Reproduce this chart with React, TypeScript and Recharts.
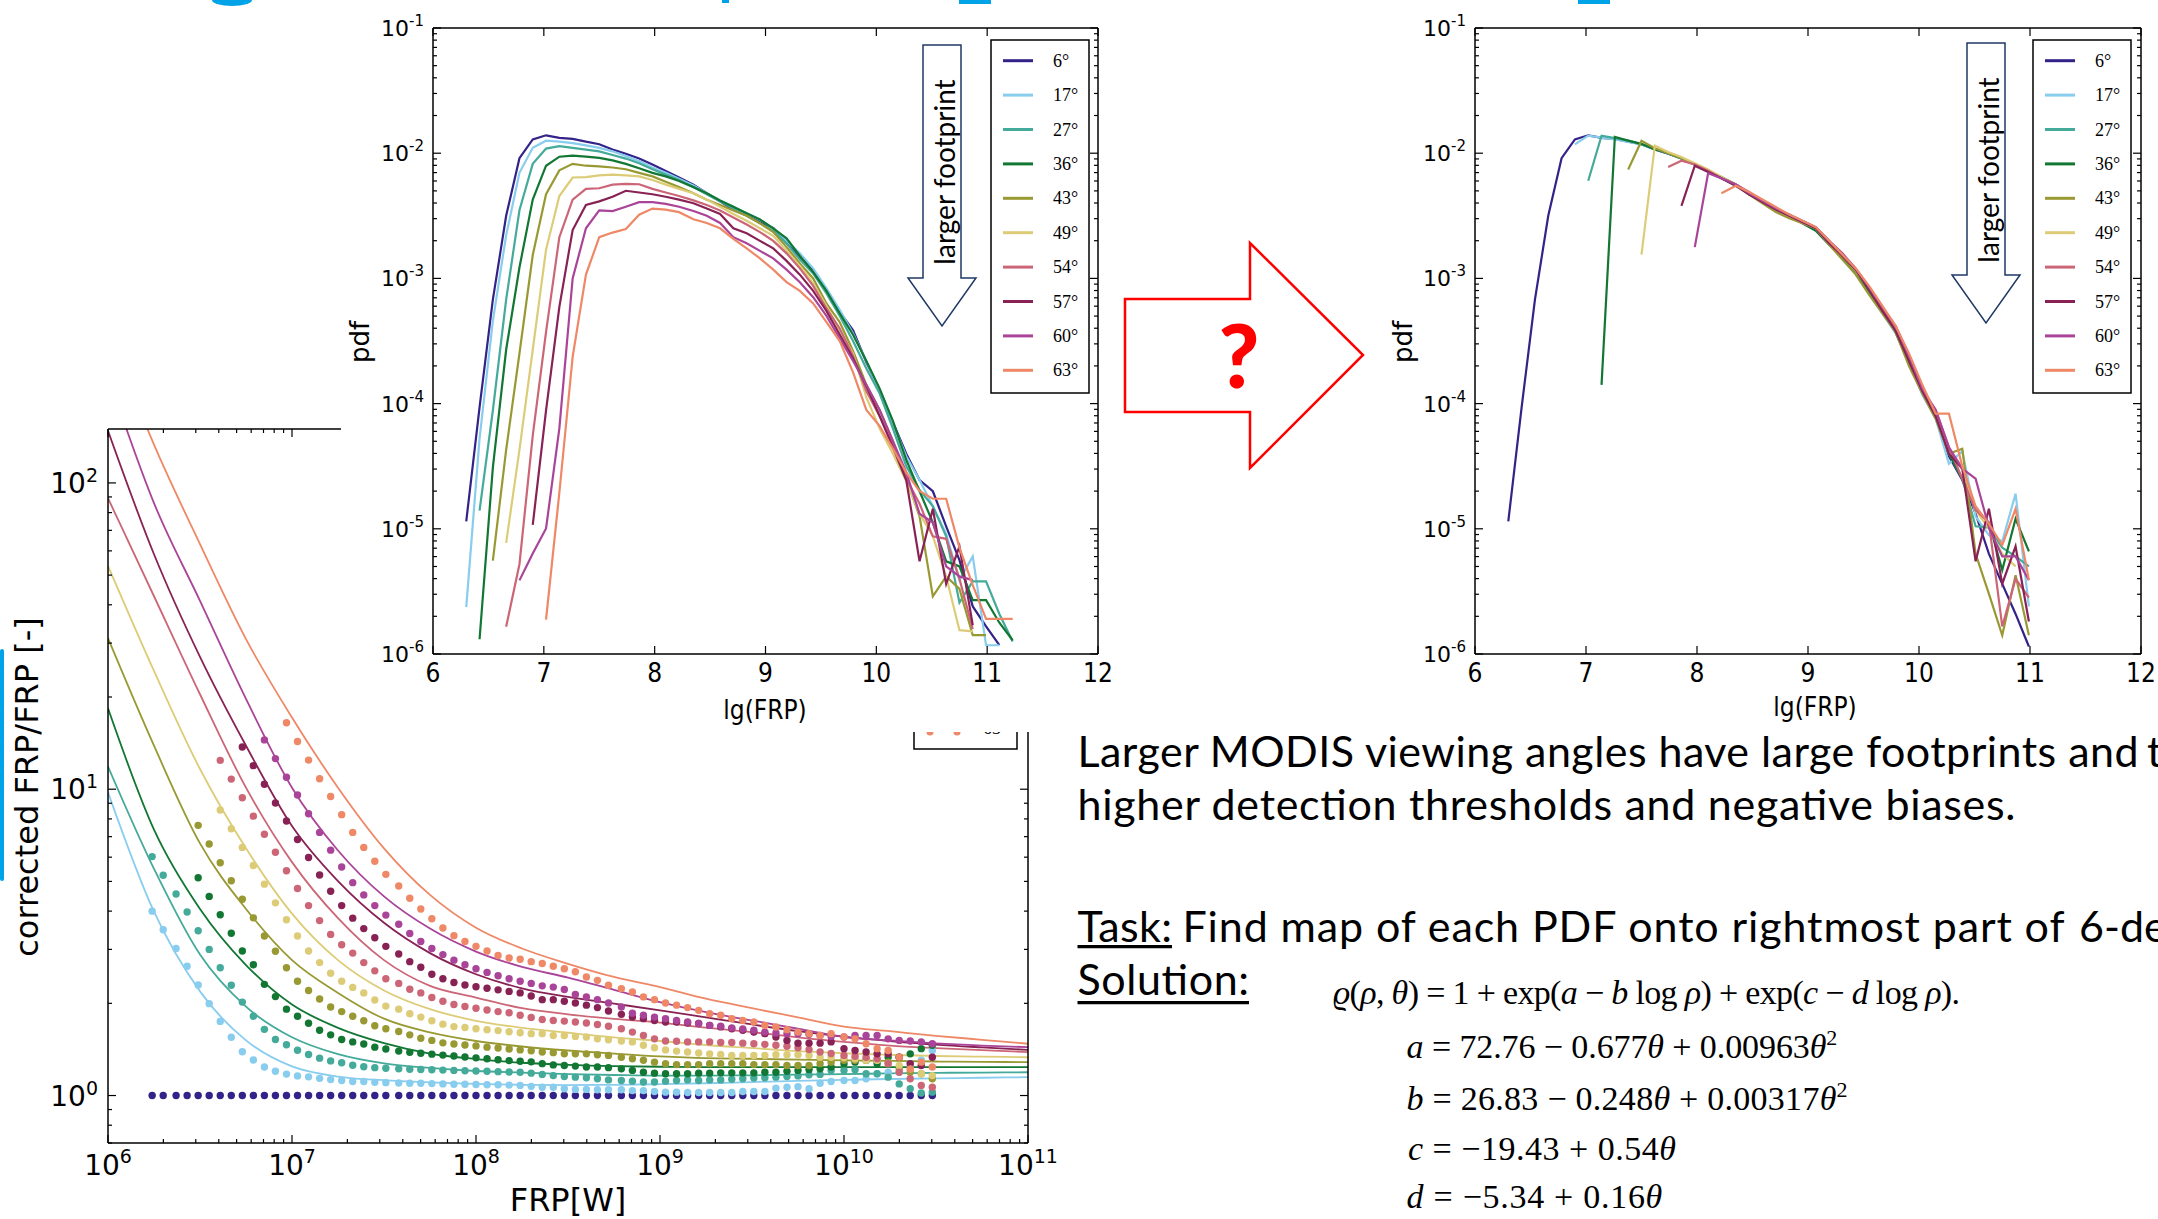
import React from "react";
import { LineChart, ComposedChart, Line, Scatter, XAxis, YAxis } from "recharts";

const angles = ["6°", "17°", "27°", "36°", "43°", "49°", "54°", "57°", "60°", "63°"];
const colors = ["#332288", "#88ccee", "#44aa99", "#117733", "#999933", "#ddcc77", "#cc6677", "#882255", "#aa4499", "#ee8866"];

// lg(FRP) bin centres used by both pdf panels
const binX = [6.30, 6.42, 6.54, 6.66, 6.78, 6.90, 7.02, 7.14, 7.26, 7.38, 7.50, 7.62, 7.74, 7.86, 7.98, 8.10, 8.22, 8.35, 8.47, 8.59, 8.71, 8.83, 8.95, 9.07, 9.19, 9.31, 9.43, 9.55, 9.67, 9.79, 9.91, 10.03, 10.15, 10.27, 10.39, 10.51, 10.63, 10.75, 10.87, 10.99, 11.11, 11.23];

// left panel: lg(pdf) per bin, first bin index in leftStart
const leftStart = [0, 0, 1, 1, 2, 3, 3, 5, 4, 6];
const pdfL06 = [-4.94, -4.03, -3.17, -2.5, -2.04, -1.89, -1.857, -1.877, -1.885, -1.908, -1.928, -1.971, -2.005, -2.042, -2.091, -2.142, -2.194, -2.251, -2.32, -2.385, -2.451, -2.497, -2.552, -2.596, -2.717, -2.827, -2.937, -3.1, -3.267, -3.414, -3.67, -3.89, -4.15, -4.4, -4.61, -4.7, -4.98, -5.25, -5.62, -5.78, -5.93];
const pdfL17 = [-5.625, -4.28, -3.34, -2.656, -2.157, -1.957, -1.9, -1.908, -1.92, -1.937, -1.957, -1.985, -2.022, -2.062, -2.114, -2.157, -2.205, -2.257, -2.32, -2.377, -2.428, -2.48, -2.53, -2.6, -2.7, -2.8, -2.92, -3.08, -3.25, -3.44, -3.66, -3.9, -4.16, -4.42, -4.61, -4.82, -5.04, -5.41, -5.22, -5.93, -5.93];
const pdfL27 = [-4.855, -4.055, -3.17, -2.456, -2.085, -1.963, -1.943, -1.957, -1.971, -1.985, -2.014, -2.043, -2.08, -2.128, -2.171, -2.214, -2.271, -2.328, -2.385, -2.442, -2.5, -2.56, -2.62, -2.72, -2.85, -2.96, -3.12, -3.3, -3.5, -3.72, -3.92, -4.2, -4.5, -4.69, -4.82, -5.06, -5.59, -5.42, -5.42, -5.68, -5.9];
const pdfL36 = [-5.882, -4.512, -3.57, -2.913, -2.371, -2.1, -2.028, -2.02, -2.028, -2.037, -2.057, -2.085, -2.12, -2.157, -2.185, -2.222, -2.271, -2.32, -2.377, -2.428, -2.48, -2.53, -2.6, -2.68, -2.82, -2.95, -3.1, -3.28, -3.45, -3.66, -3.88, -4.14, -4.45, -4.7, -4.95, -5.26, -5.3, -5.57, -5.57, -5.75, -5.89];
const pdfL43 = [-5.254, -4.37, -3.6, -2.813, -2.328, -2.137, -2.085, -2.1, -2.105, -2.114, -2.128, -2.157, -2.185, -2.228, -2.271, -2.32, -2.371, -2.414, -2.457, -2.5, -2.56, -2.63, -2.75, -2.88, -3.0, -3.2, -3.35, -3.58, -3.85, -4.05, -4.3, -4.6, -4.9, -5.54, -5.38, -5.48, -5.85, -5.85];
const pdfL49 = [-5.112, -4.37, -3.57, -2.77, -2.342, -2.194, -2.191, -2.177, -2.171, -2.177, -2.185, -2.214, -2.251, -2.285, -2.32, -2.371, -2.428, -2.485, -2.54, -2.6, -2.66, -2.78, -2.9, -3.04, -3.22, -3.42, -3.6, -3.95, -4.2, -4.4, -4.62, -4.88, -5.06, -5.38, -5.81, -5.82];
const pdfL54 = [-5.783, -5.283, -4.255, -3.427, -2.671, -2.371, -2.285, -2.28, -2.251, -2.245, -2.248, -2.285, -2.314, -2.342, -2.377, -2.414, -2.457, -2.514, -2.57, -2.63, -2.7, -2.8, -2.92, -3.06, -3.24, -3.4, -3.62, -3.9, -4.1, -4.33, -4.6, -4.8, -5.06, -5.08, -5.4, -5.8];
const pdfL57 = [-4.969, -4.055, -3.227, -2.614, -2.414, -2.385, -2.348, -2.3, -2.314, -2.328, -2.348, -2.371, -2.4, -2.442, -2.485, -2.6, -2.64, -2.7, -2.76, -2.86, -2.97, -3.1, -3.26, -3.45, -3.64, -3.86, -4.1, -4.35, -4.61, -5.26, -4.84, -5.44, -5.14, -5.77];
const pdfL60 = [-5.412, -5.197, -4.997, -4.198, -3.0, -2.6, -2.457, -2.462, -2.428, -2.391, -2.391, -2.405, -2.428, -2.462, -2.5, -2.557, -2.671, -2.72, -2.78, -2.84, -2.93, -3.03, -3.15, -3.3, -3.48, -3.66, -3.85, -4.05, -4.3, -4.55, -4.88, -4.95, -5.3, -5.38, -5.41];
const pdfL63 = [-5.726, -4.712, -3.627, -2.97, -2.671, -2.634, -2.605, -2.491, -2.442, -2.451, -2.471, -2.528, -2.557, -2.6, -2.685, -2.76, -2.84, -2.93, -3.03, -3.1, -3.2, -3.35, -3.5, -3.75, -4.05, -4.18, -4.36, -4.55, -4.7, -4.76, -4.76, -5.15, -5.45, -5.72, -5.72, -5.72];
const leftPdf = [pdfL06, pdfL17, pdfL27, pdfL36, pdfL43, pdfL49, pdfL54, pdfL57, pdfL60, pdfL63];

// right panel (after correction)
const rightStart = [0, 5, 6, 7, 9, 10, 12, 13, 14, 16];
const pdfR06 = [-4.94, -4.03, -3.17, -2.5, -2.04, -1.89, -1.857, -1.877, -1.885, -1.908, -1.928, -1.971, -2.005, -2.042, -2.091, -2.142, -2.194, -2.251, -2.32, -2.385, -2.451, -2.497, -2.552, -2.596, -2.717, -2.827, -2.937, -3.1, -3.267, -3.414, -3.67, -3.92, -4.1, -4.42, -4.61, -4.88, -5.2, -5.44, -5.68, -5.94];
const pdfR17 = [-1.93, -1.86, -1.875, -1.89, -1.91, -1.93, -1.97, -2.0, -2.04, -2.09, -2.14, -2.2, -2.25, -2.32, -2.39, -2.45, -2.5, -2.56, -2.6, -2.72, -2.84, -2.96, -3.12, -3.28, -3.44, -3.66, -3.93, -4.12, -4.48, -4.38, -4.9, -5.05, -5.1, -4.72, -5.62];
const pdfR27 = [-2.22, -1.86, -1.88, -1.9, -1.93, -1.965, -2.0, -2.045, -2.09, -2.145, -2.19, -2.25, -2.33, -2.38, -2.46, -2.5, -2.55, -2.6, -2.71, -2.83, -2.94, -3.1, -3.27, -3.42, -3.68, -3.9, -4.1, -4.4, -4.6, -4.98, -4.99, -5.15, -5.22, -5.3];
const pdfR36 = [-3.85, -1.87, -1.9, -1.925, -1.97, -2.0, -2.04, -2.09, -2.14, -2.2, -2.26, -2.32, -2.38, -2.45, -2.49, -2.56, -2.62, -2.73, -2.83, -2.95, -3.12, -3.25, -3.43, -3.68, -3.9, -4.1, -4.4, -4.6, -4.85, -4.95, -5.33, -4.92, -5.18];
const pdfR43 = [-2.13, -1.9, -1.96, -2.0, -2.04, -2.09, -2.14, -2.19, -2.25, -2.33, -2.4, -2.47, -2.52, -2.56, -2.6, -2.73, -2.85, -2.97, -3.13, -3.28, -3.43, -3.7, -3.92, -4.12, -4.4, -4.36, -5.2, -5.52, -5.85, -5.37, -5.85];
const pdfR49 = [-2.81, -1.94, -1.99, -2.03, -2.08, -2.13, -2.19, -2.25, -2.32, -2.38, -2.45, -2.5, -2.55, -2.6, -2.72, -2.82, -2.94, -3.08, -3.25, -3.4, -3.64, -3.88, -4.08, -4.38, -4.5, -4.85, -5.0, -5.2, -5.3];
const pdfR54 = [-2.11, -2.06, -2.09, -2.14, -2.2, -2.25, -2.31, -2.38, -2.44, -2.5, -2.55, -2.59, -2.7, -2.82, -2.93, -3.08, -3.24, -3.4, -3.64, -3.9, -4.05, -4.35, -4.6, -4.85, -4.95, -5.78, -5.4, -5.55];
const pdfR57 = [-2.42, -2.1, -2.15, -2.2, -2.26, -2.33, -2.39, -2.45, -2.5, -2.55, -2.6, -2.72, -2.82, -2.93, -3.09, -3.26, -3.42, -3.66, -3.9, -4.1, -4.4, -4.52, -5.26, -4.84, -5.44, -5.14, -5.74];
const pdfR60 = [-2.75, -2.16, -2.2, -2.25, -2.32, -2.38, -2.44, -2.49, -2.54, -2.59, -2.7, -2.8, -2.92, -3.07, -3.23, -3.38, -3.62, -3.88, -4.05, -4.35, -4.52, -4.6, -4.99, -5.22, -5.22, -5.41];
const pdfR63 = [-2.32, -2.26, -2.31, -2.37, -2.43, -2.49, -2.54, -2.59, -2.7, -2.81, -2.92, -3.06, -3.22, -3.38, -3.6, -3.85, -4.08, -4.08, -4.5, -4.82, -4.96, -5.13, -4.84, -5.41];
const rightPdf = [pdfR06, pdfR17, pdfR27, pdfR36, pdfR43, pdfR49, pdfR54, pdfR57, pdfR60, pdfR63];

// correction panel: lg(FRP) of the dots, lg(corrected/FRP) per angle
const dotX = [6.24, 6.30, 6.37, 6.43, 6.49, 6.55, 6.61, 6.67, 6.73, 6.79, 6.85, 6.91, 6.97, 7.03, 7.09, 7.15, 7.21, 7.27, 7.33, 7.39, 7.45, 7.51, 7.58, 7.64, 7.70, 7.76, 7.82, 7.88, 7.94, 8.00, 8.06, 8.12, 8.18, 8.24, 8.30, 8.36, 8.42, 8.48, 8.54, 8.60, 8.66, 8.72, 8.79, 8.85, 8.91, 8.97, 9.03, 9.09, 9.15, 9.21, 9.27, 9.33, 9.39, 9.45, 9.51, 9.57, 9.63, 9.69, 9.75, 9.81, 9.87, 9.93, 10.00, 10.06, 10.12, 10.18, 10.24, 10.30, 10.36, 10.42, 10.48];
const dotStart = [0, 0, 0, 4, 4, 6, 6, 8, 10, 12];
const corr06 = [0, 0, 0, 0, 0, 0, 0, 0, 0, 0, 0, 0, 0, 0, 0, 0, 0, 0, 0, 0, 0, 0, 0, 0, 0, 0, 0, 0, 0, 0, 0, 0, 0, 0, 0, 0, 0, 0, 0, 0, 0, 0, 0, 0, 0, 0, 0, 0, 0, 0, 0, 0, 0, 0, 0, 0, 0, 0, 0, 0, 0, 0, 0, 0, 0, 0, 0, 0, 0, 0, 0];
const corr17 = [0.602, 0.541, 0.48, 0.422, 0.361, 0.3, 0.242, 0.19, 0.143, 0.116, 0.093, 0.079, 0.07, 0.064, 0.061, 0.056, 0.052, 0.049, 0.046, 0.046, 0.043, 0.042, 0.041, 0.04, 0.04, 0.039, 0.038, 0.037, 0.037, 0.036, 0.035, 0.035, 0.034, 0.033, 0.03, 0.027, 0.027, 0.022, 0.02, 0.02, 0.019, 0.019, 0.019, 0.016, 0.016, 0.013, 0.011, 0.011, 0.01, 0.01, 0.01, 0.01, 0.01, 0.013, 0.013, 0.013, 0.024, 0.027, 0.029, 0.022, 0.04, 0.046, 0.049, 0.049, 0.055, 0.071, 0.076, 0.076, 0.104, 0.115, 0.147];
const corr27 = [0.78, 0.719, 0.658, 0.599, 0.538, 0.477, 0.417, 0.36, 0.305, 0.259, 0.216, 0.183, 0.166, 0.148, 0.134, 0.122, 0.113, 0.107, 0.099, 0.094, 0.091, 0.089, 0.087, 0.086, 0.085, 0.084, 0.083, 0.082, 0.081, 0.08, 0.079, 0.078, 0.077, 0.076, 0.073, 0.069, 0.065, 0.062, 0.06, 0.058, 0.055, 0.051, 0.049, 0.047, 0.044, 0.044, 0.047, 0.049, 0.051, 0.049, 0.051, 0.051, 0.053, 0.055, 0.057, 0.058, 0.06, 0.062, 0.064, 0.068, 0.069, 0.082, 0.082, 0.084, 0.071, 0.071, 0.06, 0.038, 0.022, 0.008, 0.011];
const corr36 = [0.711, 0.65, 0.59, 0.53, 0.472, 0.427, 0.363, 0.323, 0.282, 0.259, 0.236, 0.213, 0.198, 0.183, 0.175, 0.168, 0.158, 0.152, 0.145, 0.141, 0.138, 0.135, 0.132, 0.129, 0.126, 0.123, 0.12, 0.117, 0.114, 0.112, 0.11, 0.104, 0.1, 0.098, 0.096, 0.093, 0.093, 0.091, 0.087, 0.082, 0.076, 0.073, 0.071, 0.071, 0.071, 0.073, 0.073, 0.074, 0.074, 0.074, 0.074, 0.076, 0.076, 0.079, 0.082, 0.085, 0.087, 0.093, 0.104, 0.109, 0.115, 0.104, 0.125, 0.125, 0.136, 0.153, 0.164];
const corr43 = [0.882, 0.821, 0.76, 0.701, 0.641, 0.58, 0.521, 0.471, 0.417, 0.373, 0.343, 0.315, 0.289, 0.274, 0.259, 0.244, 0.228, 0.218, 0.209, 0.198, 0.187, 0.18, 0.172, 0.168, 0.165, 0.162, 0.158, 0.155, 0.152, 0.149, 0.146, 0.142, 0.14, 0.136, 0.136, 0.136, 0.133, 0.131, 0.125, 0.12, 0.115, 0.109, 0.104, 0.101, 0.101, 0.101, 0.104, 0.104, 0.104, 0.104, 0.101, 0.101, 0.101, 0.098, 0.098, 0.098, 0.104, 0.109, 0.115, 0.115, 0.115, 0.115, 0.109, 0.087, 0.076, 0.071, 0.055];
const corr49 = [0.932, 0.871, 0.81, 0.751, 0.69, 0.629, 0.574, 0.521, 0.472, 0.434, 0.399, 0.373, 0.353, 0.335, 0.312, 0.292, 0.282, 0.267, 0.256, 0.244, 0.233, 0.225, 0.222, 0.218, 0.215, 0.212, 0.208, 0.205, 0.202, 0.202, 0.196, 0.196, 0.193, 0.191, 0.185, 0.182, 0.178, 0.175, 0.164, 0.156, 0.149, 0.145, 0.142, 0.139, 0.136, 0.134, 0.131, 0.131, 0.131, 0.131, 0.133, 0.133, 0.133, 0.131, 0.125, 0.125, 0.123, 0.12, 0.115, 0.115, 0.104, 0.098, 0.087, 0.071, 0.065];
const corr54 = [1.094, 1.033, 0.972, 0.912, 0.853, 0.794, 0.734, 0.676, 0.62, 0.571, 0.526, 0.492, 0.465, 0.434, 0.407, 0.381, 0.366, 0.347, 0.335, 0.32, 0.308, 0.297, 0.291, 0.285, 0.279, 0.274, 0.27, 0.262, 0.255, 0.248, 0.245, 0.243, 0.24, 0.237, 0.232, 0.226, 0.218, 0.207, 0.196, 0.185, 0.178, 0.177, 0.175, 0.175, 0.175, 0.173, 0.173, 0.171, 0.169, 0.167, 0.164, 0.161, 0.156, 0.15, 0.142, 0.137, 0.131, 0.128, 0.125, 0.12, 0.104, 0.076, 0.055, 0.033, 0.027];
const corr57 = [1.138, 1.077, 1.016, 0.955, 0.896, 0.836, 0.777, 0.72, 0.667, 0.62, 0.579, 0.545, 0.515, 0.487, 0.462, 0.437, 0.419, 0.396, 0.381, 0.369, 0.361, 0.355, 0.35, 0.345, 0.34, 0.335, 0.325, 0.313, 0.313, 0.308, 0.302, 0.295, 0.287, 0.276, 0.265, 0.256, 0.251, 0.245, 0.24, 0.24, 0.237, 0.235, 0.229, 0.224, 0.218, 0.213, 0.207, 0.202, 0.191, 0.18, 0.171, 0.171, 0.171, 0.175, 0.153, 0.147, 0.142, 0.136, 0.136, 0.125, 0.104, 0.098, 0.125];
const corr60 = [1.161, 1.1, 1.039, 0.981, 0.92, 0.859, 0.801, 0.746, 0.695, 0.655, 0.62, 0.589, 0.559, 0.529, 0.503, 0.48, 0.46, 0.442, 0.427, 0.414, 0.402, 0.391, 0.381, 0.373, 0.366, 0.358, 0.354, 0.346, 0.33, 0.322, 0.313, 0.302, 0.289, 0.269, 0.262, 0.256, 0.251, 0.245, 0.24, 0.235, 0.229, 0.226, 0.221, 0.217, 0.213, 0.207, 0.204, 0.202, 0.202, 0.2, 0.196, 0.193, 0.191, 0.196, 0.196, 0.196, 0.185, 0.18, 0.178, 0.175, 0.169];
const corr63 = [1.217, 1.156, 1.095, 1.034, 0.976, 0.917, 0.859, 0.81, 0.765, 0.722, 0.684, 0.644, 0.609, 0.577, 0.547, 0.522, 0.503, 0.487, 0.472, 0.457, 0.449, 0.445, 0.437, 0.431, 0.422, 0.414, 0.404, 0.387, 0.376, 0.36, 0.349, 0.338, 0.322, 0.313, 0.302, 0.295, 0.287, 0.278, 0.267, 0.262, 0.251, 0.245, 0.24, 0.229, 0.224, 0.215, 0.207, 0.202, 0.196, 0.202, 0.191, 0.185, 0.169, 0.153, 0.147, 0.125, 0.087, 0.109, 0.093];
const corrDots = [corr06, corr17, corr27, corr36, corr43, corr49, corr54, corr57, corr60, corr63];

// fitted curves, lg(corrected/FRP) at fitX
const fitX = [6, 6.25, 6.5, 6.75, 7, 7.25, 7.5, 7.75, 8, 8.25, 8.5, 8.75, 9, 9.25, 9.5, 9.75, 10, 10.25, 10.5, 10.75, 11];
const fit17 = [0.99, 0.6, 0.34, 0.18, 0.095, 0.062, 0.05, 0.043, 0.038, 0.035, 0.034, 0.035, 0.037, 0.04, 0.044, 0.048, 0.051, 0.054, 0.056, 0.058, 0.06];
const fit27 = [1.074, 0.74, 0.46, 0.29, 0.19, 0.135, 0.105, 0.09, 0.08, 0.075, 0.07, 0.067, 0.065, 0.065, 0.066, 0.068, 0.07, 0.072, 0.074, 0.075, 0.076];
const fit36 = [1.264, 0.868, 0.609, 0.426, 0.297, 0.221, 0.171, 0.137, 0.119, 0.107, 0.1, 0.096, 0.094, 0.093, 0.093, 0.093, 0.093, 0.093, 0.093, 0.093, 0.093];
const fit43 = [1.493, 1.142, 0.823, 0.609, 0.442, 0.335, 0.251, 0.206, 0.178, 0.16, 0.147, 0.137, 0.128, 0.122, 0.12, 0.117, 0.115, 0.113, 0.111, 0.11, 0.109];
const fit49 = [1.729, 1.386, 1.066, 0.807, 0.594, 0.442, 0.343, 0.282, 0.244, 0.221, 0.205, 0.19, 0.178, 0.165, 0.155, 0.145, 0.138, 0.133, 0.129, 0.127, 0.125];
const fit54 = [1.95, 1.63, 1.31, 1.005, 0.762, 0.579, 0.442, 0.358, 0.32, 0.285, 0.265, 0.25, 0.238, 0.222, 0.207, 0.19, 0.175, 0.163, 0.155, 0.148, 0.142];
const fit57 = [2.17, 1.767, 1.432, 1.142, 0.88, 0.7, 0.564, 0.465, 0.396, 0.35, 0.322, 0.3, 0.278, 0.255, 0.232, 0.21, 0.192, 0.178, 0.166, 0.157, 0.149];
const fit60 = [2.35, 1.934, 1.615, 1.295, 1.005, 0.8, 0.65, 0.545, 0.47, 0.42, 0.385, 0.345, 0.305, 0.272, 0.245, 0.218, 0.191, 0.18, 0.17, 0.163, 0.158];
const fit63 = [2.5, 2.125, 1.8, 1.49, 1.234, 1.005, 0.807, 0.655, 0.548, 0.48, 0.43, 0.387, 0.354, 0.316, 0.285, 0.255, 0.225, 0.21, 0.195, 0.182, 0.169];
const fits = [null, fit17, fit27, fit36, fit43, fit49, fit54, fit57, fit60, fit63];

// axis ticks
const minorSteps = [2, 3, 4, 5, 6, 7, 8, 9];
const pdfXTicks = [6, 7, 8, 9, 10, 11, 12];
const pdfYTicks = [-6, -5, -4, -3, -2, -1, ...[-6, -5, -4, -3, -2].flatMap((n) => minorSteps.map((k) => n + Math.log10(k)))];
const frpTicks = [6, 7, 8, 9, 10, 11, ...[6, 7, 8, 9, 10].flatMap((n) => minorSteps.map((k) => n + Math.log10(k)))];
const corrTicks = [0, 1, 2, ...[-1, 0, 1].flatMap((n) => minorSteps.map((k) => n + Math.log10(k))).filter((v) => v > -0.16)];

const plotFont = "'DejaVu Sans', sans-serif";
const condFont = "'DejaVu Sans Condensed', 'DejaVu Sans', sans-serif";
const mathFont = "'Liberation Serif', 'DejaVu Serif', serif";
const slideFont = "Lato, 'Open Sans', sans-serif";

const series = (xs: number[], start: number, ys: number[]) => ys.map((y, i) => ({ x: xs[start + i], y }));
const isDecade = (v: number) => Math.abs(v - Math.round(v)) < 1e-6;
const frame = { stroke: "#000", strokeWidth: 1.5 };

function tickMaker(side: string, big: number, small: number, label?: (v: number, x: number, y: number) => React.ReactNode) {
  return (p: any) => {
    const v = p.payload.value as number;
    const maj = isDecade(v);
    const L = maj ? big : small;
    const { x, y } = p;
    const end = side === "b" ? [x, y - L] : side === "t" ? [x, y + L] : side === "l" ? [x + L, y] : [x - L, y];
    return (
      <g>
        <line x1={x} y1={y} x2={end[0]} y2={end[1]} stroke="#000" strokeWidth={1.2} />
        {maj && label ? label(v, x, y) : null}
      </g>
    );
  };
}

const pdfXLabel = (v: number, x: number, y: number) => (
  <text x={x} y={y + 28} textAnchor="middle" fontFamily={condFont} fontSize={26} fill="#000">{v}</text>
);
const pdfYLabel = (v: number, x: number, y: number) => (
  <text x={x - 9} y={y + 8} textAnchor="end" fontFamily={plotFont} fontSize={22} fill="#000">
    10<tspan dy={-10} fontSize={15}>{v}</tspan>
  </text>
);
const frpXLabel = (v: number, x: number, y: number) => (
  <text x={x} y={y + 32} textAnchor="middle" fontFamily={plotFont} fontSize={28} fill="#000">
    10<tspan dy={-12} fontSize={19}>{v}</tspan>
  </text>
);
const corrYLabel = (v: number, x: number, y: number) => (
  <text x={x - 10} y={y + 10} textAnchor="end" fontFamily={plotFont} fontSize={28} fill="#000">
    10<tspan dy={-11} fontSize={19}>{v}</tspan>
  </text>
);

function PdfPanel({ left, width, axisW, rightPad, pdfs, starts, bg }: any) {
  return (
    <div style={{ position: "absolute", left, top: 0, width, height: 732, background: bg }}>
      <LineChart width={width} height={732} margin={{ top: 27, right: rightPad, bottom: 0, left: 0 }}>
        <XAxis dataKey="x" type="number" domain={[6, 12]} ticks={pdfXTicks} interval={0} allowDataOverflow height={78}
          tickSize={0} tickMargin={0} tickLine={false} axisLine={frame} tick={tickMaker("b", 8, 4, pdfXLabel)} />
        <XAxis xAxisId="t" orientation="top" dataKey="x" type="number" domain={[6, 12]} ticks={pdfXTicks} interval={0} allowDataOverflow height={1}
          tickSize={0} tickMargin={0} tickLine={false} axisLine={frame} tick={tickMaker("t", 8, 4)} />
        <YAxis dataKey="y" type="number" domain={[-6, -1]} ticks={pdfYTicks} interval={0} allowDataOverflow width={axisW}
          tickSize={0} tickMargin={0} tickLine={false} axisLine={frame} tick={tickMaker("l", 8, 4, pdfYLabel)} />
        <YAxis yAxisId="r" orientation="right" dataKey="y" type="number" domain={[-6, -1]} ticks={pdfYTicks} interval={0} allowDataOverflow width={1}
          tickSize={0} tickMargin={0} tickLine={false} axisLine={frame} tick={tickMaker("r", 8, 4)} />
        {pdfs.map((vals: number[], i: number) => (
          <Line key={angles[i]} data={series(binX, starts[i], vals)} dataKey="y" type="linear" stroke={colors[i]}
            strokeWidth={2.2} dot={false} isAnimationActive={false} />
        ))}
      </LineChart>
    </div>
  );
}

function CorrectionPanel() {
  return (
    <div style={{ position: "absolute", left: 0, top: 400, width: 1060, height: 819 }}>
      <ComposedChart width={1060} height={819} margin={{ top: 28, right: 31, bottom: 0, left: 0 }}>
        <XAxis dataKey="x" type="number" domain={[6, 11]} ticks={frpTicks} interval={0} allowDataOverflow height={76}
          tickSize={0} tickMargin={0} tickLine={false} axisLine={frame} tick={tickMaker("b", 8, 4, frpXLabel)} />
        <XAxis xAxisId="t" orientation="top" dataKey="x" type="number" domain={[6, 11]} ticks={frpTicks} interval={0} allowDataOverflow height={1}
          tickSize={0} tickMargin={0} tickLine={false} axisLine={frame} tick={tickMaker("t", 8, 4)} />
        <YAxis dataKey="y" type="number" domain={[-0.155, 2.176]} ticks={corrTicks} interval={0} allowDataOverflow width={108}
          tickSize={0} tickMargin={0} tickLine={false} axisLine={frame} tick={tickMaker("l", 8, 4, corrYLabel)} />
        <YAxis yAxisId="r" orientation="right" dataKey="y" type="number" domain={[-0.155, 2.176]} ticks={corrTicks} interval={0} allowDataOverflow width={1}
          tickSize={0} tickMargin={0} tickLine={false} axisLine={frame} tick={tickMaker("r", 8, 4)} />
        {corrDots.flatMap((vals, i) => {
          const c = colors[i];
          const fit = fits[i];
          const items = [
            <Scatter key={"d" + i} data={series(dotX, dotStart[i], vals)} fill={c} isAnimationActive={false}
              shape={(p: any) => <circle cx={p.cx} cy={p.cy} r={3.7} fill={c} />} />,
          ];
          if (fit) {
            items.push(
              <Line key={"f" + i} data={series(fitX, 0, fit)} dataKey="y" type="monotone" stroke={c} strokeWidth={1.8}
                dot={false} isAnimationActive={false} />
            );
          }
          return items;
        })}
      </ComposedChart>
      <svg width={1060} height={819} style={{ position: "absolute", left: 0, top: 0 }}>
        <rect x={914} y={250} width={103} height={99} fill="#fff" stroke="#000" strokeWidth={1.5} />
        <circle cx={930} cy={332} r={3.5} fill={colors[9]} />
        <circle cx={957} cy={332} r={3.5} fill={colors[9]} />
        <text x={983} y={334} fontFamily={mathFont} fontSize={18}>63°</text>
      </svg>
    </div>
  );
}

function AngleKey({ x0 }: { x0: number }) {
  return (
    <g>
      <rect x={x0} y={40} width={98} height={353} fill="#fff" stroke="#000" strokeWidth={1.5} />
      {angles.map((a, i) => {
        const y = 60.7 + 34.4 * i;
        return (
          <g key={a}>
            <line x1={x0 + 12} x2={x0 + 42} y1={y} y2={y} stroke={colors[i]} strokeWidth={3} />
            <text x={x0 + 62} y={y + 6} fontFamily={mathFont} fontSize={18} fill="#000">{a}</text>
          </g>
        );
      })}
    </g>
  );
}

function Footprint({ cx, top, shaftBottom, tip, textY }: any) {
  const pts = [
    [cx - 19, top], [cx + 19, top], [cx + 19, shaftBottom], [cx + 34, shaftBottom],
    [cx, tip], [cx - 34, shaftBottom], [cx - 19, shaftBottom],
  ].map((p) => p.join(",")).join(" ");
  return (
    <g>
      <polygon points={pts} fill="#fff" stroke="#1f3864" strokeWidth={1.5} />
      <text x={cx + 2} y={textY} transform={`rotate(-90 ${cx + 2} ${textY})`} textAnchor="middle" dominantBaseline="central"
        fontFamily={slideFont} fontSize={28} fill="#000">larger footprint</text>
    </g>
  );
}

function Overlay() {
  const it = { fontStyle: "italic" } as const;
  return (
    <svg width={2158} height={1219} style={{ position: "absolute", left: 0, top: 0, pointerEvents: "none" }}>
      {/* slide fragments */}
      <rect x={0} y={649} width={4} height={232} rx={2} fill="#00a2e8" />
      <ellipse cx={232} cy={0} rx={20} ry={6} fill="#00a2e8" />
      <rect x={722} y={0} width={7} height={3} fill="#00a2e8" />
      <rect x={959} y={0} width={32} height={4} fill="#00a2e8" />
      <rect x={1578} y={0} width={32} height={4} fill="#00a2e8" />

      {/* axis titles */}
      <text x={360} y={342} transform="rotate(-90 360 342)" textAnchor="middle" dominantBaseline="central" fontFamily={plotFont} fontSize={26}>pdf</text>
      <text x={1403} y={342} transform="rotate(-90 1403 342)" textAnchor="middle" dominantBaseline="central" fontFamily={plotFont} fontSize={26}>pdf</text>
      <text x={765} y={710} textAnchor="middle" dominantBaseline="central" fontFamily={condFont} fontSize={26}>lg(FRP)</text>
      <text x={1815} y={707} textAnchor="middle" dominantBaseline="central" fontFamily={condFont} fontSize={26}>lg(FRP)</text>
      <text x={27} y={787} transform="rotate(-90 27 787)" textAnchor="middle" dominantBaseline="central" fontFamily={plotFont} fontSize={32}>corrected FRP/FRP [-]</text>
      <text x={568} y={1200} textAnchor="middle" dominantBaseline="central" fontFamily={plotFont} fontSize={32}>FRP[W]</text>

      <AngleKey x0={991} />
      <AngleKey x0={2033} />
      <Footprint cx={942} top={45} shaftBottom={278} tip={326} textY={172} />
      <Footprint cx={1986} top={43} shaftBottom={275} tip={323} textY={170} />

      {/* red arrow with question mark */}
      <polygon points="1125,299 1250,299 1250,243 1363,355 1250,468 1250,412 1125,412" fill="#fff" stroke="#ff0000" strokeWidth={2.5} />
      <text x={1239} y={388} textAnchor="middle" fontFamily={slideFont} fontWeight={900} fontSize={88} fill="#ff0000">?</text>

      {/* slide text */}
      <g fontFamily={slideFont} fontSize={43} fill="#000">
        <text x={1077.5} y={766.7} textLength={1061}>Larger MODIS viewing angles have large footprints and</text>
        <text x={2147} y={766.7}>therefore</text>
        <text x={1077.5} y={820} textLength={938}>higher detection thresholds and negative biases.</text>
        <text x={1077.5} y={941.7} textLength={94.5}>Task:</text>
        <text x={1182.5} y={941.7} textLength={882}>Find map of each PDF onto rightmost part of</text>
        <text x={2079} y={941.7}>6-degree PDF.</text>
        <text x={1077.5} y={995} textLength={171.5}>Solution:</text>
      </g>
      <line x1={1077.5} x2={1172} y1={946.7} y2={946.7} stroke="#000" strokeWidth={3.2} />
      <line x1={1077.5} x2={1249} y1={1002.7} y2={1002.7} stroke="#000" strokeWidth={3.2} />

      {/* formulas */}
      <g fontFamily={mathFont} fontSize={34} fill="#000">
        <text x={1333} y={1004} textLength={627}>
          <tspan {...it}>ϱ</tspan>(<tspan {...it}>ρ</tspan>, <tspan {...it}>θ</tspan>) = 1 + exp(<tspan {...it}>a</tspan> − <tspan {...it}>b</tspan> log <tspan {...it}>ρ</tspan>) + exp(<tspan {...it}>c</tspan> − <tspan {...it}>d</tspan> log <tspan {...it}>ρ</tspan>).
        </text>
        <text x={1406.6} y={1058} textLength={430.7}>
          <tspan {...it}>a</tspan> = 72.76 − 0.677<tspan {...it}>θ</tspan> + 0.00963<tspan {...it}>θ</tspan><tspan dy={-13} fontSize={22}>2</tspan>
        </text>
        <text x={1406.6} y={1110} textLength={441}>
          <tspan {...it}>b</tspan> = 26.83 − 0.248<tspan {...it}>θ</tspan> + 0.00317<tspan {...it}>θ</tspan><tspan dy={-13} fontSize={22}>2</tspan>
        </text>
        <text x={1408} y={1160} textLength={268}>
          <tspan {...it}>c</tspan> = −19.43 + 0.54<tspan {...it}>θ</tspan>
        </text>
        <text x={1406.6} y={1208} textLength={255.7}>
          <tspan {...it}>d</tspan> = −5.34 + 0.16<tspan {...it}>θ</tspan>
        </text>
      </g>
    </svg>
  );
}

export default function App() {
  return (
    <div style={{ position: "relative", width: 2158, height: 1219, overflow: "hidden", background: "#fff" }}>
      <style>{"body{margin:0;overflow:hidden}"}</style>
      <CorrectionPanel />
      <PdfPanel left={341} width={800} axisW={92} rightPad={42} pdfs={leftPdf} starts={leftStart} bg="#fff" />
      <PdfPanel left={1390} width={768} axisW={85} rightPad={16} pdfs={rightPdf} starts={rightStart} bg="transparent" />
      <Overlay />
    </div>
  );
}
